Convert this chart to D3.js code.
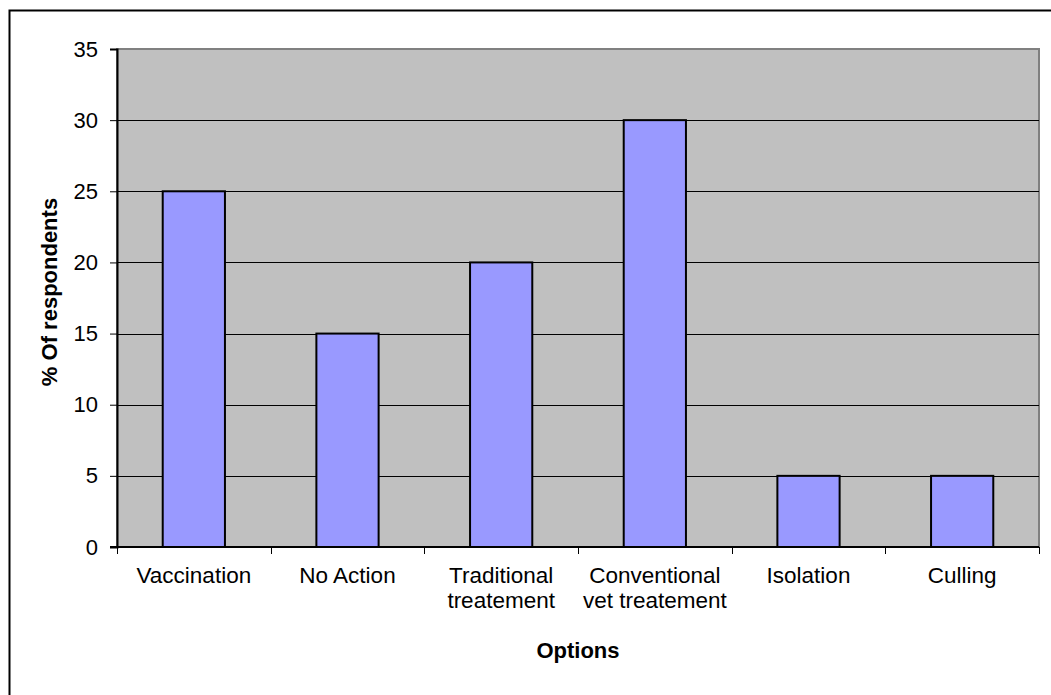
<!DOCTYPE html>
<html>
<head>
<meta charset="utf-8">
<script src="https://cdn.jsdelivr.net/npm/d3@7"></script>
<style>
	body { margin: 0; background: #fff; }
	svg { display: block; font-family: "Liberation Sans", Arial, sans-serif; }
</style>
</head>
<body>
<svg></svg>
<script>
var categories = [
	["Vaccination"],
	["No Action"],
	["Traditional", "treatement"],
	["Conventional", "vet treatement"],
	["Isolation"],
	["Culling"]
];
var values = [25, 15, 20, 30, 5, 5];
var yTicks = [0, 5, 10, 15, 20, 25, 30, 35];

var W = 1051, H = 695;
var margin = { top: 49, right: 12, bottom: 148, left: 117 },
	width = W - margin.left - margin.right,
	height = H - margin.top - margin.bottom;

var svg = d3.select("svg")
	.attr("width", W)
	.attr("height", H);

// outer frame
svg.append("rect")
	.attr("x", 9.5).attr("y", 10.5)
	.attr("width", W + 10).attr("height", H + 10)
	.attr("fill", "none")
	.attr("stroke", "#000")
	.attr("stroke-width", 2);

var g = svg.append("g")
	.attr("transform", "translate(" + margin.left + "," + margin.top + ")");

var xScale = d3.scaleBand()
	.range([0, width])
	.domain(d3.range(categories.length))
	.paddingInner(0)
	.paddingOuter(0);

var yScale = d3.scaleLinear()
	.range([height, 0])
	.domain([0, 35]);

// plot area
g.append("rect")
	.attr("width", width)
	.attr("height", height)
	.attr("fill", "#C0C0C0")
	.attr("stroke", "#808080")
	.attr("stroke-width", 2);

// gridlines
g.selectAll(".grid")
	.data(yTicks.filter(function (d) { return d > 0 && d < 35; }))
	.enter().append("line")
	.attr("x1", 0)
	.attr("x2", width)
	.attr("y1", function (d) { return Math.round(yScale(d)) + 0.5; })
	.attr("y2", function (d) { return Math.round(yScale(d)) + 0.5; })
	.attr("stroke", "#000")
	.attr("stroke-width", 1);

// bars
var barW = xScale.bandwidth() * 0.405;
g.selectAll(".bar")
	.data(values)
	.enter().append("rect")
	.attr("x", function (d, i) { return xScale(i) + (xScale.bandwidth() - barW) / 2; })
	.attr("y", function (d) { return yScale(d); })
	.attr("width", barW)
	.attr("height", function (d) { return height - yScale(d); })
	.attr("fill", "#9999FF")
	.attr("stroke", "#000")
	.attr("stroke-width", 2);

// axis-y
var yAxis = g.append("g")
	.call(d3.axisLeft(yScale).tickValues(yTicks).tickSize(7).tickPadding(12));
yAxis.select(".domain").attr("stroke-width", 2);
yAxis.selectAll(".tick line").attr("stroke-width", 1);
yAxis.selectAll("text")
	.style("font-size", "22px")
	.attr("fill", "#000");

// axis-x
var xAxisG = g.append("g")
	.attr("transform", "translate(0," + height + ")");
xAxisG.append("line")
	.attr("x1", -7).attr("x2", width)
	.attr("stroke", "#000")
	.attr("stroke-width", 2);
xAxisG.selectAll(".xtick")
	.data(d3.range(categories.length + 1))
	.enter().append("line")
	.attr("x1", function (d) { return Math.round(d * xScale.step()) + 0.5; })
	.attr("x2", function (d) { return Math.round(d * xScale.step()) + 0.5; })
	.attr("y1", 0)
	.attr("y2", 7)
	.attr("stroke", "#000");

var labels = xAxisG.selectAll(".xlabel")
	.data(categories)
	.enter().append("text")
	.attr("text-anchor", "middle")
	.attr("x", function (d, i) { return xScale(i) + xScale.bandwidth() / 2; })
	.attr("y", 36)
	.style("font-size", "22.5px")
	.attr("fill", "#000");
labels.selectAll("tspan")
	.data(function (d) { return d; })
	.enter().append("tspan")
	.attr("x", function () { return d3.select(this.parentNode).attr("x"); })
	.attr("dy", function (d, i) { return i == 0 ? 0 : 25; })
	.text(function (d) { return d; });

// axis titles
svg.append("text")
	.attr("x", margin.left + width / 2)
	.attr("y", 658)
	.attr("text-anchor", "middle")
	.style("font-size", "22px")
	.style("font-weight", "bold")
	.text("Options");

svg.append("text")
	.attr("transform", "translate(57," + 292 + ") rotate(-90)")
	.attr("text-anchor", "middle")
	.style("font-size", "22px")
	.style("font-weight", "bold")
	.text("% Of respondents");
</script>
</body>
</html>
